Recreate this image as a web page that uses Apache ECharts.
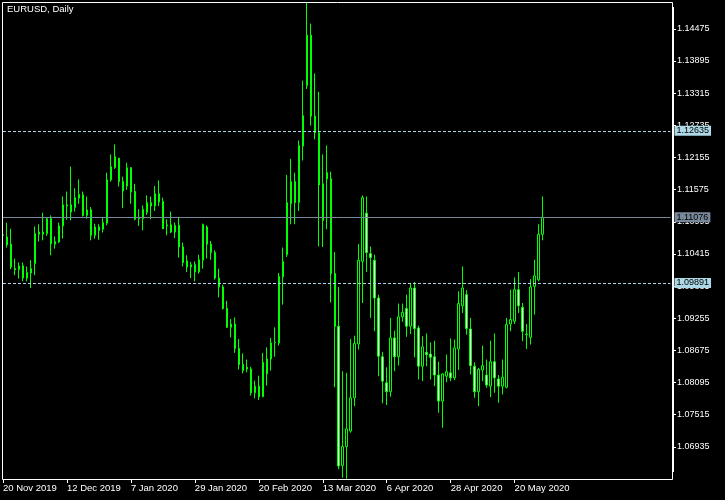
<!DOCTYPE html>
<html><head><meta charset="utf-8">
<script src="https://cdn.jsdelivr.net/npm/echarts@6/dist/echarts.min.js"></script>
<style>html,body{margin:0;padding:0;background:#000;}#c{width:725px;height:500px;}</style>
</head><body><div id="c"></div>
<script>
const dates = [
'20 Nov 2019','21 Nov 2019','22 Nov 2019','25 Nov 2019','26 Nov 2019','27 Nov 2019','28 Nov 2019','29 Nov 2019',
'2 Dec 2019','3 Dec 2019','4 Dec 2019','5 Dec 2019','6 Dec 2019','9 Dec 2019','10 Dec 2019','11 Dec 2019','12 Dec 2019','13 Dec 2019','16 Dec 2019','17 Dec 2019','18 Dec 2019','19 Dec 2019','20 Dec 2019','23 Dec 2019','24 Dec 2019','26 Dec 2019','27 Dec 2019','30 Dec 2019','31 Dec 2019',
'2 Jan 2020','3 Jan 2020','6 Jan 2020','7 Jan 2020','8 Jan 2020','9 Jan 2020','10 Jan 2020','13 Jan 2020','14 Jan 2020','15 Jan 2020','16 Jan 2020','17 Jan 2020','20 Jan 2020','21 Jan 2020','22 Jan 2020','23 Jan 2020','24 Jan 2020','27 Jan 2020','28 Jan 2020','29 Jan 2020','30 Jan 2020','31 Jan 2020',
'3 Feb 2020','4 Feb 2020','5 Feb 2020','6 Feb 2020','7 Feb 2020','10 Feb 2020','11 Feb 2020','12 Feb 2020','13 Feb 2020','14 Feb 2020','17 Feb 2020','18 Feb 2020','19 Feb 2020','20 Feb 2020','21 Feb 2020','24 Feb 2020','25 Feb 2020','26 Feb 2020','27 Feb 2020','28 Feb 2020',
'2 Mar 2020','3 Mar 2020','4 Mar 2020','5 Mar 2020','6 Mar 2020','9 Mar 2020','10 Mar 2020','11 Mar 2020','12 Mar 2020','13 Mar 2020','16 Mar 2020','17 Mar 2020','18 Mar 2020','19 Mar 2020','20 Mar 2020','23 Mar 2020','24 Mar 2020','25 Mar 2020','26 Mar 2020','27 Mar 2020','30 Mar 2020','31 Mar 2020',
'1 Apr 2020','2 Apr 2020','3 Apr 2020','6 Apr 2020','7 Apr 2020','8 Apr 2020','9 Apr 2020','10 Apr 2020','13 Apr 2020','14 Apr 2020','15 Apr 2020','16 Apr 2020','17 Apr 2020','20 Apr 2020','21 Apr 2020','22 Apr 2020','23 Apr 2020','24 Apr 2020','27 Apr 2020','28 Apr 2020','29 Apr 2020','30 Apr 2020',
'1 May 2020','4 May 2020','5 May 2020','6 May 2020','7 May 2020','8 May 2020','11 May 2020','12 May 2020','13 May 2020','14 May 2020','15 May 2020','18 May 2020','19 May 2020','20 May 2020','21 May 2020','22 May 2020','25 May 2020','26 May 2020','27 May 2020','28 May 2020','29 May 2020'
];
const opens = [
1.1075,1.1072,1.1059,1.1015,1.1013,1.1020,1.0998,1.1007,1.1024,1.1077,
1.1081,1.1078,1.1105,1.1059,1.1063,1.1092,1.1128,1.1130,1.1125,1.1142,
1.1148,1.1111,1.1121,1.1075,1.1090,1.1086,1.1097,1.1175,1.1197,1.1214,
1.1172,1.1164,1.1197,1.1154,1.1105,1.1105,1.1116,1.1134,1.1128,1.1150,
1.1136,1.1092,1.1094,1.1081,1.1093,1.1054,1.1029,1.1018,1.1022,1.1009,
1.1030,1.1090,1.1059,1.1044,1.0998,1.0982,1.0943,1.0909,1.0915,1.0871,
1.0842,1.0837,1.0834,1.0791,1.0803,1.0784,1.0825,1.0852,1.0881,1.0881,
1.1000,1.1040,1.1132,1.1172,1.1134,1.1236,1.1345,1.1436,1.1290,1.1260,
1.1168,1.1188,1.1177,1.1006,1.0911,1.0660,1.0694,1.0722,1.0782,1.0879,
1.1028,1.1115,1.1042,1.1030,1.0962,1.0856,1.0809,1.0793,1.0890,1.0856,
1.0928,1.0943,1.0911,1.0980,1.0908,1.0839,1.0864,1.0861,1.0856,1.0823,
1.0776,1.0821,1.0827,1.0818,1.0870,1.0948,1.0968,1.0906,1.0839,1.0793,
1.0832,1.0823,1.0803,1.0847,1.0816,1.0803,1.0801,1.0915,1.0920,1.0977,
1.0945,1.0897,1.0891,1.0983,1.0995,1.1077
];
const closes = [
1.1076,1.1058,1.1018,1.1013,1.1020,1.0998,1.1008,1.1015,1.1078,1.1081,
1.1077,1.1105,1.1060,1.1064,1.1092,1.1130,1.1130,1.1117,1.1143,1.1149,
1.1111,1.1121,1.1075,1.1090,1.1084,1.1098,1.1175,1.1199,1.1217,1.1172,
1.1155,1.1197,1.1153,1.1104,1.1106,1.1122,1.1134,1.1128,1.1150,1.1135,
1.1087,1.1094,1.1081,1.1093,1.1054,1.1026,1.1018,1.1022,1.1009,1.1031,
1.1095,1.1059,1.1044,1.0998,1.0982,1.0943,1.0909,1.0915,1.0871,1.0842,
1.0831,1.0834,1.0791,1.0803,1.0784,1.0846,1.0852,1.0881,1.0882,1.1001,
1.1028,1.1134,1.1172,1.1134,1.1237,1.1291,1.1436,1.1290,1.1260,1.1166,
1.1102,1.1177,1.1006,1.0911,1.0659,1.0694,1.0726,1.0782,1.0880,1.1030,
1.1143,1.1044,1.1035,1.0962,1.0857,1.0812,1.0793,1.0890,1.0856,1.0928,
1.0936,1.0911,1.0980,1.0907,1.0839,1.0874,1.0860,1.0855,1.0823,1.0776,
1.0825,1.0829,1.0818,1.0872,1.0952,1.0980,1.0907,1.0840,1.0793,1.0833,
1.0840,1.0805,1.0847,1.0818,1.0803,1.0819,1.0914,1.0923,1.0977,1.0948,
1.0902,1.0896,1.0982,1.1002,1.1077,1.11076
];
const lows = [
1.1072,1.1053,1.1014,1.1003,1.0997,1.0992,1.0992,1.0980,1.1003,1.1064,
1.1066,1.1074,1.1039,1.1051,1.1061,1.1069,1.1103,1.1102,1.1118,1.1132,
1.1109,1.1105,1.1066,1.1069,1.1067,1.1080,1.1093,1.1172,1.1195,1.1163,
1.1124,1.1157,1.1132,1.1102,1.1092,1.1084,1.1112,1.1104,1.1119,1.1128,
1.1086,1.1075,1.1079,1.1070,1.1035,1.1019,1.1009,1.0998,1.0992,1.1006,
1.1015,1.1033,1.1031,1.0995,1.0963,1.0941,1.0908,1.0891,1.0863,1.0833,
1.0826,1.0828,1.0786,1.0781,1.0778,1.0783,1.0804,1.0831,1.0856,1.0876,
1.0950,1.1036,1.1095,1.1095,1.1119,1.1210,1.1339,1.1273,1.1248,1.1055,
1.1054,1.1086,1.0954,1.0801,1.0653,1.0638,1.0636,1.0719,1.0767,1.0869,
1.0953,1.1009,1.0926,1.0902,1.0821,1.0772,1.0769,1.0784,1.0830,1.0840,
1.0919,1.0892,1.0897,1.0855,1.0815,1.0812,1.0839,1.0815,1.0803,1.0755,
1.0728,1.0810,1.0812,1.0814,1.0832,1.0935,1.0896,1.0824,1.0782,1.0767,
1.0812,1.0800,1.0783,1.0791,1.0773,1.0788,1.0799,1.0902,1.0915,1.0935,
1.0884,1.0870,1.0878,1.0932,1.0992,1.1066
];
const highs = [
1.1079,1.1098,1.1087,1.1033,1.1026,1.1026,1.1019,1.1030,1.1091,1.1095,
1.1116,1.1107,1.1111,1.1073,1.1098,1.1145,1.1154,1.1199,1.1160,1.1176,
1.1154,1.1145,1.1126,1.1096,1.1095,1.1108,1.1188,1.1221,1.1239,1.1215,
1.1181,1.1206,1.1198,1.1168,1.1122,1.1129,1.1147,1.1145,1.1164,1.1174,
1.1143,1.1104,1.1118,1.1098,1.1108,1.1062,1.1039,1.1027,1.1028,1.1040,
1.1096,1.1093,1.1065,1.1048,1.1015,1.0986,1.0957,1.0924,1.0927,1.0888,
1.0862,1.0851,1.0838,1.0813,1.0822,1.0863,1.0873,1.0890,1.0909,1.1007,
1.1053,1.1184,1.1213,1.1188,1.1246,1.1354,1.1496,1.1457,1.1367,1.1334,
1.1221,1.1237,1.1190,1.1045,1.0982,1.0830,1.0827,1.0888,1.0894,1.1059,
1.1147,1.1145,1.1055,1.1040,1.0968,1.0865,1.0837,1.0926,1.0903,1.0952,
1.0952,1.0968,1.0989,1.0991,1.0912,1.0893,1.0898,1.0882,1.0885,1.0847,
1.0826,1.0860,1.0889,1.0887,1.0974,1.1019,1.0976,1.0926,1.0846,1.0836,
1.0876,1.0851,1.0885,1.0898,1.0823,1.0851,1.0926,1.0977,1.0999,1.1009,
1.0953,1.0915,1.0996,1.1031,1.1095,1.1145
];
const levelUpper = 1.12635;
const levelLower = 1.09891;
const lastPrice = 1.11076;
const yMin = 1.06355, yMax = 1.14959, yStep = 0.0058;
const labelEvery = 16;
const lastLabelIndex = 128;

const FONT = 'Liberation Sans';
const candles = opens.map((o, i) => [o, closes[i], lows[i], highs[i]]);
const showIdx = (i) => i % labelEvery === 0 && i <= lastLabelIndex;

const chart = echarts.init(document.getElementById('c'), null, {renderer: 'canvas'});
chart.setOption({
  backgroundColor: '#000000',
  animation: false,
  title: {
    text: 'EURUSD, Daily', left: 7, top: 4, padding: 0,
    textStyle: {color: '#ffffff', fontSize: 9.5, fontWeight: 'normal', fontFamily: FONT}
  },
  grid: {left: 2.5, top: 2, width: 668, height: 477, show: false},
  xAxis: {
    type: 'category', data: dates, boundaryGap: false, max: 167,
    axisLine: {show: false},
    axisTick: {show: true, length: 4, interval: (i) => showIdx(i), lineStyle: {color: '#ffffff', width: 1}},
    axisLabel: {interval: (i) => showIdx(i), align: 'left', margin: 4, color: '#ffffff', fontSize: 9.5, fontFamily: FONT},
    splitLine: {show: false}
  },
  yAxis: {
    type: 'value', position: 'right', offset: 1.5,
    min: yMin, max: yMax, interval: yStep,
    axisLine: {show: false},
    axisTick: {show: true, length: 4, lineStyle: {color: '#ffffff', width: 1}},
    axisLabel: {color: '#ffffff', fontSize: 9, fontFamily: FONT, margin: 5,
      showMinLabel: false, showMaxLabel: false, formatter: (v) => v.toFixed(5)},
    splitLine: {show: false}
  },
  series: [{
    type: 'candlestick',
    data: candles,
    barWidth: 2,
    itemStyle: {color: '#000000', color0: '#ffffff', borderColor: '#00ff00', borderColor0: '#00ff00', borderWidth: 1},
    markLine: {
      silent: true, symbol: ['none', 'none'], animation: false, precision: 5,
      label: {position: 'end', distance: 4, color: '#000000', fontSize: 9, fontFamily: FONT,
        padding: [1, 2, 0, 2], formatter: (p) => Number(p.value).toFixed(5)},
      data: [
        {yAxis: levelUpper, lineStyle: {color: '#add8e6', type: [3, 2], width: 1}, label: {backgroundColor: '#add8e6'}},
        {yAxis: levelLower, lineStyle: {color: '#add8e6', type: [3, 2], width: 1}, label: {backgroundColor: '#add8e6'}},
        {yAxis: lastPrice, lineStyle: {color: '#778899', type: 'solid', width: 1}, label: {backgroundColor: '#778899'}}
      ]
    }
  }],
  graphic: [
    {type: 'rect', z: 100, silent: true, shape: {x: 2.5, y: 2.5, width: 670, height: 477},
      style: {fill: null, stroke: '#ffffff', lineWidth: 1}},
    {type: 'rect', z: 100, silent: true, shape: {x: 672, y: 7, width: 2, height: 465},
      style: {fill: '#ffffff'}}
  ]
});
</script></body></html>
